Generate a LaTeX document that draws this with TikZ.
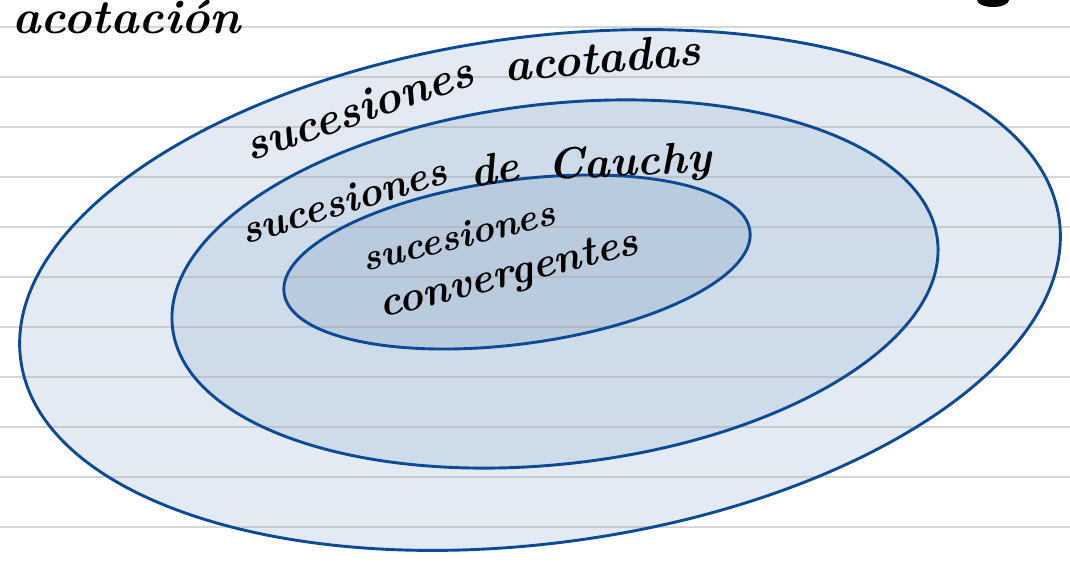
\documentclass[tikz,border=0pt]{standalone}
\usetikzlibrary{calc}
\definecolor{setline}{HTML}{0B4A95}
\definecolor{fillA}{HTML}{E3EAF3}
\definecolor{fillB}{HTML}{CEDBE8}
\definecolor{fillC}{HTML}{B9CBDD}
\tikzset{
  ruled/.style={draw=black!35, opacity=0.45, line width=1.6pt},
  setedge/.style={draw=setline, line width=2.9pt},
  hand/.style={font=\fontsize{#1}{#1}\selectfont\bfseries\itshape, text=black, inner sep=0pt},
}
\begin{document}
\begin{tikzpicture}[x=1pt,y=-1pt]
\useasboundingbox (0,0) rectangle (1070,572);
\fill[white] (0,0) rectangle (1070,572);
% set fills
\fill[fillA, rotate around={7.7:(540,290)}] (540,290) ellipse [x radius=524, y radius=253];
\fill[fillB, rotate around={6.5:(555,284)}] (555,284) ellipse [x radius=385, y radius=180];
\fill[fillC, rotate around={7.6:(517,262)}] (517,262) ellipse [x radius=235, y radius=82];
% ruled lines
\foreach \k in {0,...,10} {
  \draw[ruled] (0,{27+50*\k}) -- (1070,{27+50*\k});
}
% set outlines
\draw[setedge, rotate around={7.7:(540,290)}] (540,290) ellipse [x radius=524, y radius=253];
\draw[setedge, rotate around={6.5:(555,284)}] (555,284) ellipse [x radius=385, y radius=180];
\draw[setedge, rotate around={7.6:(517,262)}] (517,262) ellipse [x radius=235, y radius=82];
% top edge marks
\fill[black] (993,0) ellipse [x radius=16, y radius=7];
\node[hand=48, anchor=base west] (title) at (12,34) {acotación};
% labels
\node[hand=46, rotate=19, anchor=base west] (acotA) at (250,162) {sucesiones};
\node[hand=46, rotate=5, anchor=base west] (acotB) at (505,82) {acotadas};
\node[hand=41, rotate=17, anchor=base west] (cauchyA) at (245,245) {sucesiones};
\node[hand=44, rotate=9, anchor=base west] (cauchyB) at (472,188) {de};
\node[hand=44, rotate=3, anchor=base west] (cauchyC) at (548,180) {Cauchy};
\node[hand=38, rotate=14, anchor=base west] (convA) at (365,272) {sucesiones};
\node[hand=42, rotate=14, anchor=base west] (convB) at (382,318) {convergentes};
\end{tikzpicture}
\end{document}
